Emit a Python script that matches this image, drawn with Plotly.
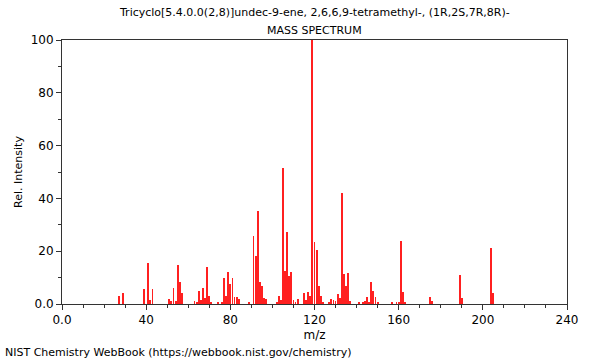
import plotly.graph_objects as go

mz = [27, 29, 39, 41, 42, 43, 51, 52, 53, 54, 55, 56, 57,
      63, 64, 65, 66, 67, 68, 69, 70, 71, 74, 76, 77, 78, 79, 80, 81, 82, 83, 84,
      89, 91, 92, 93, 94, 95, 96, 97, 102, 103, 104, 105, 106, 107, 108, 109, 110, 111,
      112, 115, 116, 117, 118, 119, 120, 121, 122, 123, 124, 127, 128, 129, 130,
      131, 132, 133, 134, 135, 136, 137, 141, 143, 144, 145, 146, 147, 148, 149, 150,
      157, 159, 160, 161, 162, 163, 175, 176, 189, 190, 204, 205]
intensity = [3.1, 4.1, 5.8, 15.6, 1.6, 5.5, 2.0, 1.0, 6.0, 1.0, 14.6, 8.5, 4.1,
             1.1, 0.6, 5.1, 1.4, 5.9, 2.1, 13.9, 3.1, 0.5, 0.6, 0.6, 10.0, 3.0, 12.0, 7.4, 10.0, 2.5, 2.5, 1.8,
             0.9, 25.6, 18.1, 35.1, 8.5, 7.0, 2.3, 1.9, 0.5, 2.9, 1.4, 51.5, 12.5, 27.1, 10.5, 12.0, 1.4, 0.5,
             2.0, 4.3, 1.4, 4.6, 3.2, 100.0, 23.3, 20.6, 7.0, 3.2, 0.8, 0.6, 2.0, 1.7, 1.0,
             3.7, 2.2, 42.2, 11.3, 6.8, 11.8, 1.3, 0.9, 0.7, 1.0, 2.7, 0.9, 8.5, 5.1, 2.8, 0.4,
             0.4, 0.5, 0.8, 24.0, 4.7, 0.9, 2.6, 1.1, 10.8, 2.1, 21.2, 4.1]

x_ticks = [0, 40, 80, 120, 160, 200, 240]
x_tick_text = ["0.0", "40", "80", "120", "160", "200", "240"]
y_ticks = [0, 20, 40, 60, 80, 100]
y_tick_text = ["0.0", "20", "40", "60", "80", "100"]

title_1 = "Tricyclo[5.4.0.0(2,8)]undec-9-ene, 2,6,6,9-tetramethyl-, (1R,2S,7R,8R)-"
title_2 = "MASS SPECTRUM"
footer = "NIST Chemistry WebBook (https://webbook.nist.gov/chemistry)"

font = "DejaVu Sans, sans-serif"

fig = go.Figure()
fig.add_trace(go.Bar(
    x=mz, y=intensity, width=0.42,
    marker=dict(color="#ff2020", line=dict(width=0)),
    hoverinfo="x+y",
))

fig.update_layout(
    width=600, height=360,
    margin=dict(l=62, r=33, t=40, b=56, autoexpand=False),
    paper_bgcolor="white", plot_bgcolor="white",
    showlegend=False,
    font=dict(family=font, size=12, color="black"),
    bargap=0,
    xaxis=dict(
        range=[0, 240], tickmode="array", tickvals=x_ticks, ticktext=x_tick_text,
        showgrid=False, zeroline=False, automargin=False,
        showline=True, linecolor="#333", linewidth=1, mirror=True,
        ticks="outside", ticklen=5, tickcolor="#333",
        minor=dict(dtick=10, ticks="outside", ticklen=3, tickcolor="#333"),
        title=dict(text="m/z", font=dict(family=font, size=12), standoff=4),
        tickfont=dict(family=font, size=12),
    ),
    yaxis=dict(
        range=[0, 100], tickmode="array", tickvals=y_ticks, ticktext=y_tick_text,
        showgrid=False, zeroline=False, automargin=False,
        showline=True, linecolor="#333", linewidth=1, mirror=True,
        ticks="outside", ticklen=5, tickcolor="#333",
        minor=dict(dtick=10, ticks="outside", ticklen=3, tickcolor="#333"),
        title=dict(text="Rel. Intensity", font=dict(family=font, size=11), standoff=5),
        tickfont=dict(family=font, size=12),
    ),
    annotations=[
        dict(text=title_1, xref="paper", yref="paper", x=0.5, y=1 + 27 / 264,
             xanchor="center", yanchor="middle", showarrow=False,
             font=dict(family=font, size=11, color="black")),
        dict(text=title_2, xref="paper", yref="paper", x=0.5, y=1 + 10 / 264,
             xanchor="center", yanchor="middle", showarrow=False,
             font=dict(family=font, size=11, color="black")),
        dict(text=footer, xref="paper", yref="paper", x=-59 / 505, y=-48 / 264,
             xanchor="left", yanchor="middle", showarrow=False,
             font=dict(family=font, size=11, color="black")),
    ],
)

fig.write_html("out.html", config={"displayModeBar": False},
               post_script="document.body.style.margin='0px';document.body.style.overflow='hidden';")
